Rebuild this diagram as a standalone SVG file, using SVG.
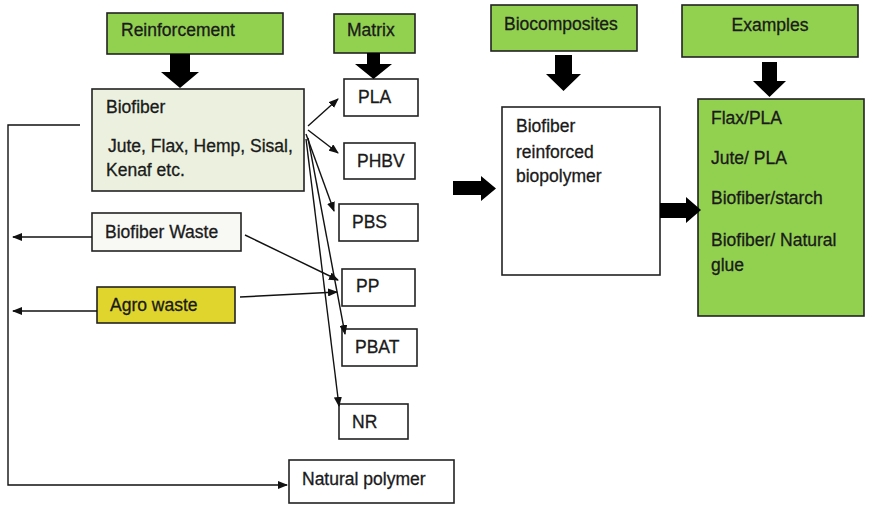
<svg xmlns="http://www.w3.org/2000/svg" width="870" height="505" viewBox="0 0 870 505">
<style>
text{font-family:"Liberation Sans",Arial,sans-serif;font-size:17.5px;fill:#1a1a1a;stroke:#1a1a1a;stroke-width:0.3}
.b{stroke:#222;stroke-width:1.6}
.g{fill:#92d050}
.w{fill:#fff}
.c{fill:none;stroke:#111;stroke-width:1.4}
.blk{fill:#000}
</style>
<defs>
<marker id="ah" markerWidth="10" markerHeight="8" refX="9" refY="4" orient="auto" markerUnits="userSpaceOnUse">
<path d="M0,0 L10,4 L0,8 z" fill="#111"/>
</marker>
</defs>

<g id="reinforcement"><rect class="b g" x="107" y="13" width="176" height="41"/><text x="121" y="36">Reinforcement</text></g>
<g id="matrix"><rect class="b g" x="334" y="14" width="81" height="39"/><text x="347" y="36">Matrix</text></g>
<g id="biocomposites"><rect class="b g" x="491" y="5" width="146" height="46"/><text x="504" y="30">Biocomposites</text></g>
<g id="examples"><rect class="b g" x="682" y="5" width="176" height="52"/><text x="770" y="31" text-anchor="middle">Examples</text></g>

<g id="biofiber"><rect class="b" fill="#ebf1de" x="92" y="89" width="212" height="102"/>
<text x="106" y="113">Biofiber</text><text x="108" y="152">Jute, Flax, Hemp, Sisal,</text><text x="106" y="176">Kenaf etc.</text></g>
<g id="biofiber-waste"><rect class="b" fill="#f8f8f4" x="92" y="213" width="149" height="38"/><text x="105" y="238">Biofiber Waste</text></g>
<g id="agro-waste"><rect class="b" fill="#e0d52c" x="97" y="287" width="138" height="36"/><text x="110" y="311">Agro waste</text></g>

<g id="pla"><rect class="b w" x="344" y="79" width="74" height="37"/><text x="358" y="103">PLA</text></g>
<g id="phbv"><rect class="b w" x="344" y="143" width="71" height="36"/><text x="357" y="167">PHBV</text></g>
<g id="pbs"><rect class="b w" x="339" y="204" width="79" height="37"/><text x="352" y="228">PBS</text></g>
<g id="pp"><rect class="b w" x="342" y="269" width="73" height="37"/><text x="356" y="292">PP</text></g>
<g id="pbat"><rect class="b w" x="342" y="329" width="75" height="37"/><text x="355" y="353">PBAT</text></g>
<g id="nr"><rect class="b w" x="339" y="404" width="69" height="35"/><text x="352" y="428">NR</text></g>
<g id="natural-polymer"><rect class="b w" x="289" y="460" width="165" height="43"/><text x="302" y="485">Natural polymer</text></g>

<g id="biopolymer"><rect class="b w" x="502" y="107" width="158" height="168"/>
<text x="516" y="132">Biofiber</text><text x="516" y="158">reinforced</text><text x="516" y="182">biopolymer</text></g>
<g id="example-list"><rect class="b g" x="698" y="99" width="166" height="217"/>
<text x="711" y="124">Flax/PLA</text><text x="711" y="164">Jute/ PLA</text><text x="711" y="204">Biofiber/starch</text><text x="711" y="246">Biofiber/ Natural</text><text x="711" y="271">glue</text></g>

<g id="connectors">
<path class="blk" d="M170,54 H190 V72 H199 L180,88 L161,72 H170 Z"/>
<path class="blk" d="M367,53 H380 V64 H392 L373.5,79 L355,64 H367 Z"/>
<path class="blk" d="M555,55 H572 V74 H581 L563.5,91 L546,74 H555 Z"/>
<path class="blk" d="M762,62 H777 V81 H786 L769.5,97 L753,81 H762 Z"/>
<path class="blk" d="M453,181 H481 V176 L496,188.5 L481,201 V195 H453 Z"/>
<path class="blk" d="M660,203 H686 V197 L701,210 L686,223 V218 H660 Z"/>

<path class="c" d="M80,125 H8 V485 H287" marker-end="url(#ah)"/>
<path class="c" d="M92,237 H13" marker-end="url(#ah)"/>
<path class="c" d="M97,311 H13" marker-end="url(#ah)"/>
<path class="c" d="M308,126 L338,99" marker-end="url(#ah)"/>
<path class="c" d="M308,130 L338,153" marker-end="url(#ah)"/>
<path class="c" d="M306,134 L334,211" marker-end="url(#ah)"/>
<path class="c" d="M308,138 L345,334" marker-end="url(#ah)"/>
<path class="c" d="M306,139 L339,406" marker-end="url(#ah)"/>
<path class="c" d="M245,235 L338,280" marker-end="url(#ah)"/>
<path class="c" d="M240,297 L337,292" marker-end="url(#ah)"/>
</g>
</svg>
